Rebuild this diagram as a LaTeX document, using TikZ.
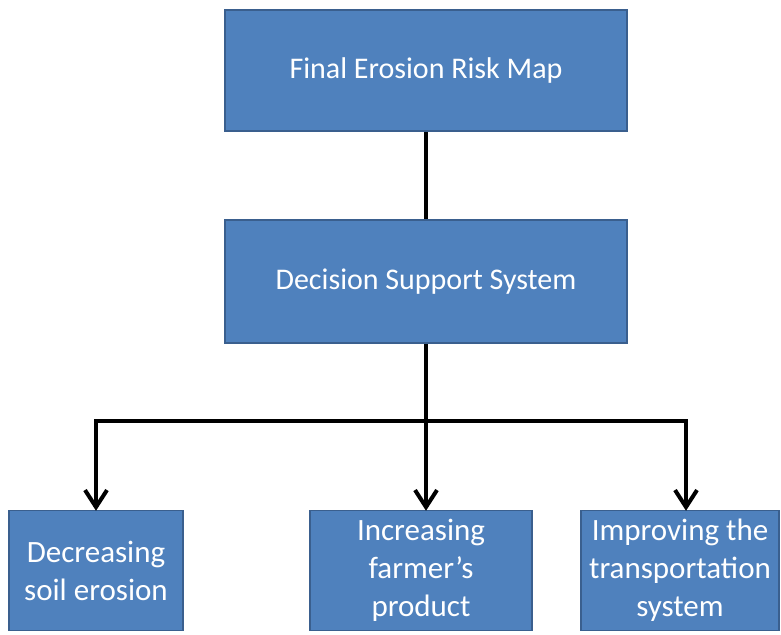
\documentclass[tikz,border=0pt]{standalone}
\usepackage{fontspec}
\setmainfont{Carlito}
\usetikzlibrary{arrows.meta}
\definecolor{boxfill}{HTML}{4F81BD}
\definecolor{boxline}{HTML}{3A5F8E}
\begin{document}
\begin{tikzpicture}[x=1pt,y=-1pt,
  box/.style={draw=boxline, line width=1.5pt, fill=boxfill, text=white,
    align=center, inner sep=0pt},
  bigtext/.style={font=\fontsize{30}{36}\selectfont},
  smalltext/.style={font=\fontsize{31}{38}\selectfont},
  link/.style={line width=4pt, black},
  tip/.style={-{Straight Barb[length=17pt,width=22pt]}}]
\useasboundingbox (0,0) rectangle (781,634);

% upper chain
\node[box, bigtext, minimum width=402pt, minimum height=121pt] (map) at (426,70.5) {Final Erosion Risk Map};
\node[box, bigtext, minimum width=402pt, minimum height=123pt] (dss) at (426,281.5) {Decision Support System};

% outcomes
\node[box, smalltext, minimum width=174pt, minimum height=120pt] (soil) at (96,570.5) {Decreasing\\soil erosion};
\node[box, smalltext, minimum width=222pt, minimum height=120pt] (farm) at (421,570.5) {Increasing\\farmer’s\\product};
\node[box, smalltext, minimum width=198pt, minimum height=120pt] (road) at (680,570.5) {Improving the\\transportation\\system};

% connectors
\coordinate (split) at (426,421);
\draw[link] (map.south) -- (dss.north);
\draw[link, tip] (dss.south) -- ([yshift=-1pt]dss.south |- farm.north);
\draw[link, tip] (split) -| ([yshift=-1pt]soil.north);
\draw[link, tip] (split) -| ([xshift=6pt,yshift=-1pt]road.north);
\end{tikzpicture}
\end{document}
